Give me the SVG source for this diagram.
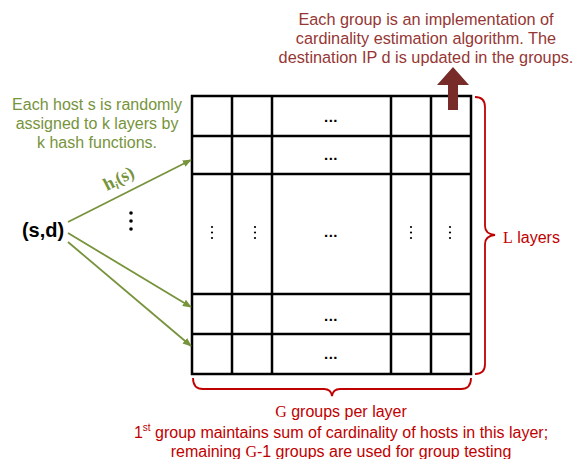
<svg xmlns="http://www.w3.org/2000/svg" width="575" height="459" viewBox="0 0 575 459">
  <style>
    .grid { stroke: #000; stroke-width: 2.5; fill: none; }
    .hdots { font-family: "Liberation Sans", Arial, sans-serif; font-size: 15px; font-weight: bold; fill: #000; text-anchor: middle; letter-spacing: 0.5px; }
    .green { font-family: "Liberation Sans", Arial, sans-serif; font-size: 16px; fill: #77933C; text-anchor: middle; }
    .maroon { font-family: "Liberation Sans", Arial, sans-serif; font-size: 16.3px; fill: #953735; text-anchor: middle; }
    .red { font-family: "Liberation Sans", Arial, sans-serif; font-size: 16px; fill: #C00000; }
    .serif { font-family: "Liberation Serif", "Times New Roman", serif; }
    .brace { stroke: #C00000; stroke-width: 1.8; fill: none; }
    .edge { stroke: #77933C; stroke-width: 1.8; fill: none; marker-end: url(#ah); }
  </style>
  <defs>
    <marker id="ah" viewBox="0 0 10 10" refX="9" refY="5" markerWidth="5" markerHeight="5" orient="auto" markerUnits="strokeWidth">
      <path d="M0,1 L10,5 L0,9 z" fill="#77933C"/>
    </marker>
  </defs>
  <rect width="575" height="459" fill="#fff"/>

  <!-- caption above the sketch -->
  <g id="caption-top">
    <text class="maroon" x="426" y="25">Each group is an implementation of</text>
    <text class="maroon" x="426" y="44">cardinality estimation algorithm. The</text>
    <text class="maroon" x="426" y="63">destination IP d is updated in the groups.</text>
  </g>

  <!-- caption on host assignment -->
  <g id="caption-hash">
    <text class="green" x="97" y="110">Each host s is randomly</text>
    <text class="green" x="97" y="129">assigned to k layers by</text>
    <text class="green" x="97" y="148">k hash functions.</text>
  </g>

  <!-- input flow -->
  <g id="input">
    <text x="43" y="237" font-family="Liberation Sans, Arial, sans-serif" font-size="20" font-weight="bold" text-anchor="middle">(s,d)</text>
    <circle cx="131" cy="213" r="1.8"/>
    <circle cx="131" cy="221" r="1.8"/>
    <circle cx="131" cy="229" r="1.8"/>
  </g>

  <!-- layers x groups sketch -->
  <g id="sketch">
    <rect class="grid" x="192" y="96" width="279" height="278"/>
    <path class="grid" d="M192,136 H471 M192,174 H471 M192,294 H471 M192,334 H471 M232,96 V374 M272,96 V374 M391,96 V374 M431,96 V374"/>
    <text class="hdots" x="331" y="122">...</text>
    <text class="hdots" x="331" y="160">...</text>
    <text class="hdots" x="331" y="237">...</text>
    <text class="hdots" x="331" y="321">...</text>
    <text class="hdots" x="331" y="359">...</text>
    <g fill="#000">
      <circle cx="212" cy="227" r="1.1"/><circle cx="212" cy="232.5" r="1.1"/><circle cx="212" cy="238" r="1.1"/>
      <circle cx="255" cy="227" r="1.1"/><circle cx="255" cy="232.5" r="1.1"/><circle cx="255" cy="238" r="1.1"/>
      <circle cx="411" cy="227" r="1.1"/><circle cx="411" cy="232.5" r="1.1"/><circle cx="411" cy="238" r="1.1"/>
      <circle cx="450" cy="227" r="1.1"/><circle cx="450" cy="232.5" r="1.1"/><circle cx="450" cy="238" r="1.1"/>
    </g>
  </g>

  <!-- update arrow into the groups -->
  <g id="update-arrow">
    <polygon points="453,67 469,85 458,85 458,110 448,110 448,85 437,85" fill="#772C2A"/>
  </g>

  <!-- layer brace -->
  <g id="layers-brace">
    <path class="brace" d="M475,97 Q485,97 485,107 V226 Q485,234 495,235 Q485,236 485,244 V364 Q485,374 475,374"/>
    <text class="red" x="503" y="243"><tspan class="serif">L</tspan> layers</text>
  </g>

  <!-- group brace -->
  <g id="groups-brace">
    <path class="brace" d="M193,378 Q193,389 203,389 H324 Q331,389 332,396 Q333,389 340,389 H461 Q471,389 471,378"/>
    <text class="red" x="341" y="417" text-anchor="middle"><tspan class="serif">G</tspan> groups per layer</text>
    <text class="red" x="341" y="438" text-anchor="middle">1<tspan font-size="10" dy="-7">st</tspan><tspan dy="7"> group maintains sum of cardinality of hosts in this layer;</tspan></text>
    <text class="red" x="341" y="457" text-anchor="middle">remaining <tspan class="serif">G</tspan>-1 groups are used for group testing</text>
  </g>

  <!-- hash connectors -->
  <g id="connectors">
    <line class="edge" x1="68" y1="222" x2="191" y2="160"/>
    <line class="edge" x1="68" y1="233" x2="191" y2="307"/>
    <line class="edge" x1="68" y1="242" x2="191" y2="346"/>
    <text transform="translate(107,191) rotate(-27)" font-family="Liberation Serif, 'Times New Roman', serif" font-size="18" font-weight="bold" fill="#77933C">h<tspan font-size="11" font-style="italic" dy="3">i</tspan><tspan dy="-3">(s)</tspan></text>
  </g>
</svg>
